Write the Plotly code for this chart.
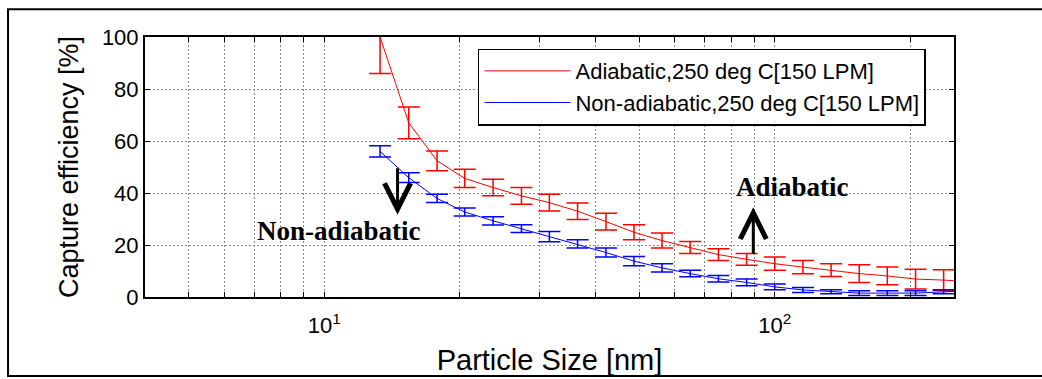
import plotly.graph_objects as go

# ---- data ----
particle_size = [13.3, 15.4, 17.8, 20.5, 23.7, 27.4, 31.6, 36.5, 42.2, 48.7, 56.2,
                 64.9, 75.0, 86.6, 100.0, 115.5, 133.4, 154.0, 177.8, 205.4, 237.1, 273.8]

adiabatic = [100, 67.0, 52.4, 45.6, 42.1, 38.9, 36.3, 33.0, 29.0, 24.9, 21.7,
             19.0, 16.3, 14.5, 12.8, 11.5, 10.3, 9.0, 8.1, 6.9, 6.5, 5.9]
adiabatic_err = [14.0, 6.1, 3.8, 3.5, 3.2, 3.2, 3.2, 3.2, 3.2, 2.85, 2.9,
                 2.3, 2.25, 2.25, 2.55, 2.55, 2.45, 3.4, 3.4, 3.8, 4.0, 4.0]

non_adiabatic = [56.0, 45.9, 37.9, 32.7, 29.3, 26.3, 23.2, 20.4, 17.1, 13.8, 11.2,
                 9.0, 7.0, 5.6, 3.9, 2.7, 2.0, 1.5, 1.5, 1.5, 2.0, 2.4]
non_adiabatic_err = [2.2, 1.9, 1.6, 1.5, 1.6, 1.45, 1.95, 1.6, 1.75, 1.8, 1.6,
                     1.25, 1.25, 1.3, 1.1, 0.95, 0.75, 0.9, 0.9, 0.9, 0.75, 0.75]

series_names = ["Adiabatic,250 deg C[150 LPM]", "Non-adiabatic,250 deg C[150 LPM]"]

x_major_vals = [10, 100]
x_major_text = ["10<sup>1</sup>", "10<sup>2</sup>"]
x_minor_vals = [5, 6, 7, 8, 9, 20, 30, 40, 50, 60, 70, 80, 90, 200]
y_tickvals = [0, 20, 40, 60, 80, 100]

SANS = "Liberation Sans, Arial, sans-serif"
SERIF = "Liberation Serif, Times New Roman, serif"
GRID = dict(showgrid=True, gridcolor="#8a8a8a", gridwidth=1, griddash="2px,2px")

fig = go.Figure()
fig.add_trace(go.Scatter(
    x=particle_size, y=adiabatic, name=series_names[0], mode="lines",
    line=dict(color="#ff0000", width=1),
    error_y=dict(type="data", array=adiabatic_err, color="#ff0000", thickness=1.5, width=11),
))
fig.add_trace(go.Scatter(
    x=particle_size, y=non_adiabatic, name=series_names[1], mode="lines",
    line=dict(color="#0000ff", width=1),
    error_y=dict(type="data", array=non_adiabatic_err, color="#0000ff", thickness=1.5, width=11),
))

axis_common = dict(
    showline=True, linecolor="black", linewidth=2, mirror="ticks",
    ticks="inside", ticklen=5, tickwidth=1.2, tickcolor="black",
    zeroline=False, automargin=False,
    tickfont=dict(family=SANS, size=22, color="black"),
    **GRID,
)

fig.update_xaxes(
    type="log", range=[0.60206, 2.39794],
    tickmode="array", tickvals=x_major_vals, ticktext=x_major_text,
    minor=dict(tickmode="array", tickvals=x_minor_vals, ticks="inside", ticklen=5,
               tickwidth=1.2, tickcolor="black", **GRID),
    ticklabelstandoff=8,
    title=dict(text="Particle Size [nm]", font=dict(family=SANS, size=29, color="black"), standoff=12),
    **axis_common,
)
fig.update_yaxes(
    range=[0, 100], tickmode="array", tickvals=y_tickvals,
    title=dict(text="Capture efficiency [%]", font=dict(family=SANS, size=27, color="black"), standoff=15),
    **axis_common,
)

# annotations with arrows
fig.add_annotation(x=1.1627, y=31.6, xref="x", yref="y", ax=0, ay=-48,
                   showarrow=True, arrowhead=5, arrowwidth=3, arrowsize=1.7, arrowcolor="black", text="")
fig.add_annotation(x=1.9524, y=34.5, xref="x", yref="y", ax=0, ay=48,
                   showarrow=True, arrowhead=5, arrowwidth=3, arrowsize=1.7, arrowcolor="black", text="")
fig.add_annotation(x=1.0331, y=25.5, xref="x", yref="y", showarrow=False,
                   text="<b>Non-adiabatic</b>", font=dict(family=SERIF, size=27, color="black"))
fig.add_annotation(x=2.0404, y=42.5, xref="x", yref="y", showarrow=False,
                   text="<b>Adiabatic</b>", font=dict(family=SERIF, size=27, color="black"))

# outer figure frame
fig.add_shape(type="rect", xref="paper", yref="paper", x0=-0.1693, x1=1.3, y0=-0.304, y1=1.1063,
              line=dict(color="black", width=2), layer="below")

fig.update_layout(
    width=1042, height=379,
    margin=dict(l=145, r=88, t=37, b=82, autoexpand=False),
    paper_bgcolor="white", plot_bgcolor="white",
    font=dict(family=SANS, color="black"),
    showlegend=True,
    legend=dict(x=0.4116, y=0.9555, xanchor="left", yanchor="top",
                bgcolor="white", bordercolor="black", borderwidth=1.5,
                font=dict(family=SANS, size=22, color="black"),
                itemwidth=86, tracegroupgap=0),
)

fig.write_html("out.html", config={"displayModeBar": False},
               post_script="document.body.style.margin='0';document.body.style.padding='0';")
